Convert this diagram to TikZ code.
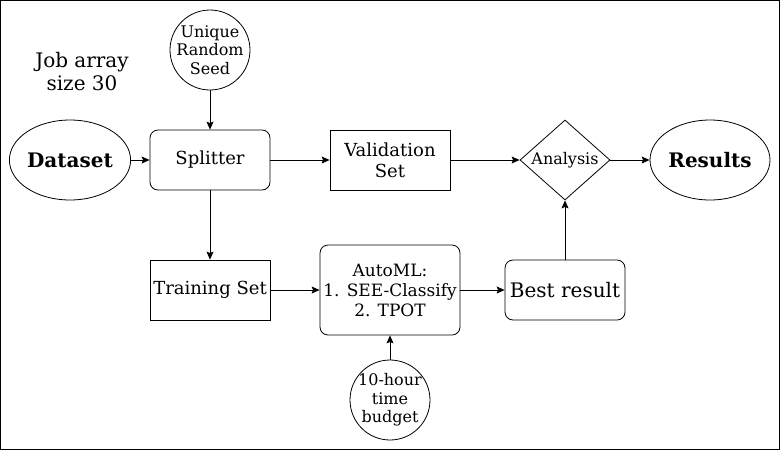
\documentclass[tikz,border=0pt]{standalone}
\usepackage{fontspec}
\setmainfont{DejaVu Serif}
\usetikzlibrary{shapes.geometric,arrows.meta}

\begin{document}
\begin{tikzpicture}[x=1pt, y=-1pt, line width=0.8pt,
    box/.style={draw, minimum width=120pt, minimum height=60pt, inner sep=0pt, align=center, font=\fontsize{18}{21}\selectfont},
    roundbox/.style={box, rounded corners=8pt},
    blob/.style={draw, ellipse, minimum width=120pt, minimum height=80pt, inner sep=0pt, font=\bfseries\fontsize{20}{23}\selectfont},
    knob/.style={draw, circle, minimum size=80pt, inner sep=-6pt, align=center, font=\fontsize{16}{18.5}\selectfont},
    link/.style={-{Stealth[length=8pt,width=7pt,inset=1.5pt]}}]
    % frame and page size
    \useasboundingbox (0,0) rectangle (781,451);
    \draw (0.5,0.5) rectangle (779.5,449.5);

    % top row
    \node[align=center, font=\fontsize{20}{23}\selectfont] (jobs) at (82,72) {Job array\\size 30};
    \node[knob] (seed) at (210,50) {Unique\\Random\\Seed};
    \node[blob] (data) at (70,160) {Dataset};
    \node[roundbox] (split) at (210,160) {Splitter};
    \node[box] (valid) at (390,160) {Validation\\Set};
    \node[draw, diamond, aspect=1.125, minimum width=90pt, minimum height=80pt, inner sep=0pt, font=\fontsize{16}{18}\selectfont] (analysis) at (565,160) {Analysis};
    \node[blob] (results) at (710,160) {Results};

    % bottom row
    \node[box] (train) at (210,290) {Training Set};
    \node[roundbox, minimum width=140pt, minimum height=90pt, font=\fontsize{17}{20}\selectfont] (automl) at (390,290) {AutoML:\\1. SEE-Classify\\2. TPOT};
    \node[roundbox, font=\fontsize{20}{23}\selectfont] (best) at (565,290) {Best result};
    \node[knob] (budget) at (390,400) {10-hour\\time\\budget};

    % connectors
    \draw[link] (data) -- (split);
    \draw[link] (seed) -- (split);
    \draw[link] (split) -- (valid);
    \draw[link] (split) -- (train);
    \draw[link] (valid) -- (analysis);
    \draw[link] (analysis) -- (results);
    \draw[link] (train) -- (automl);
    \draw[link] (automl) -- (best);
    \draw[link] (best) -- (analysis);
    \draw[link] (budget) -- (automl);
\end{tikzpicture}
\end{document}
